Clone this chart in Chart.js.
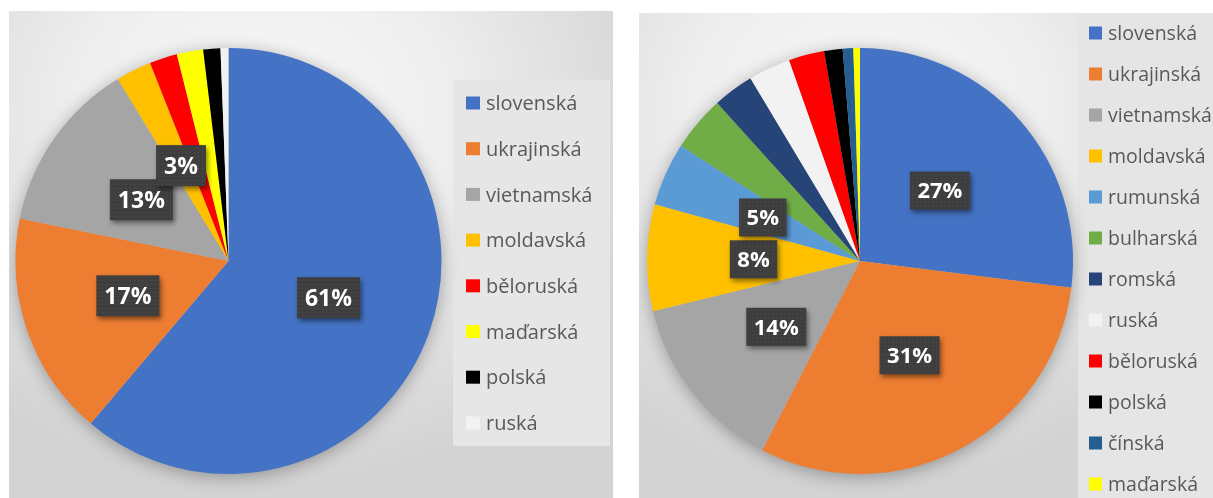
<!DOCTYPE html>
<html>
<head>
<meta charset="utf-8">
<script src="https://cdn.jsdelivr.net/npm/chart.js@4.4.1/dist/chart.umd.min.js"></script>
<style>
  html, body { margin: 0; padding: 0; background: #ffffff; }
  body { width: 1213px; height: 498px; position: relative; overflow: hidden; }
  .panel { position: absolute; }
  #p1 { left: 9px; top: 11px; width: 604px; height: 487px;
        background: radial-gradient(ellipse 70% 75% at 42% 22%, #f9f9f9 0%, #eeeeee 45%, #d3d3d3 100%); }
  #p2 { left: 639px; top: 13px; width: 574px; height: 485px;
        background: radial-gradient(ellipse 70% 75% at 40% 22%, #f9f9f9 0%, #eeeeee 45%, #d3d3d3 100%); }
  canvas { display: block; }
</style>
</head>
<body>
<div class="panel" id="p1"><canvas id="c1" width="604" height="487"></canvas></div>
<div class="panel" id="p2"><canvas id="c2" width="574" height="485"></canvas></div>
<script>
// ---- data: left chart ----
const leftCategories = ['slovenská', 'ukrajinská', 'vietnamská', 'moldavská', 'běloruská', 'maďarská', 'polská', 'ruská'];
const leftValues = [61.2, 17.0, 13.1, 2.7, 2.1, 2.0, 1.3, 0.6];
const leftColors = ['#4472C4', '#ED7D31', '#A5A5A5', '#FFC000', '#FF0000', '#FFFF00', '#000000', '#F2F2F2'];
const leftLabeled = [true, true, true, true, false, false, false, false];

// ---- data: right chart ----
const rightCategories = ['slovenská', 'ukrajinská', 'vietnamská', 'moldavská', 'rumunská', 'bulharská', 'romská', 'ruská', 'běloruská', 'polská', 'čínská', 'maďarská'];
const rightValues = [27.0, 30.6, 13.6, 8.1, 4.8, 4.2, 3.1, 3.2, 2.7, 1.4, 0.8, 0.5];
const rightColors = ['#4472C4', '#ED7D31', '#A5A5A5', '#FFC000', '#5B9BD5', '#70AD47', '#264478', '#F2F2F2', '#FF0000', '#000000', '#255E91', '#FFFF00'];
const rightLabeled = [true, true, true, true, true, false, false, false, false, false, false, false];

// dotted dark texture for data label boxes
function makePattern(ctx) {
  const pc = document.createElement('canvas');
  pc.width = 4; pc.height = 4;
  const p = pc.getContext('2d');
  p.fillStyle = '#3e3e3e';
  p.fillRect(0, 0, 4, 4);
  p.fillStyle = '#4f4f4f';
  p.fillRect(1, 1, 1, 1);
  return ctx.createPattern(pc, 'repeat');
}

function buildChart(id, categories, values, colors, labeled, cfg) {
  const el = document.getElementById(id);
  const pieShadow = {
    id: 'pieShadow',
    beforeDraw(chart) {
      const ctx = chart.ctx;
      const lg = cfg.legend;
      ctx.save();
      ctx.fillStyle = lg.bg;
      ctx.fillRect(lg.boxX, lg.boxY, lg.boxW, lg.boxH);
      ctx.restore();
    },
    beforeDatasetsDraw(chart) {
      const meta = chart.getDatasetMeta(0);
      const a = meta.data[0];
      if (!a) return;
      const ctx = chart.ctx;
      ctx.save();
      ctx.shadowColor = 'rgba(0,0,0,0.35)';
      ctx.shadowBlur = 18;
      ctx.shadowOffsetX = 0;
      ctx.shadowOffsetY = 3;
      ctx.beginPath();
      ctx.arc(a.x, a.y, a.outerRadius - 1, 0, Math.PI * 2);
      ctx.fillStyle = '#bdbdbd';
      ctx.fill();
      ctx.restore();
    }
  };
  const dataLabels = {
    id: 'dataLabels',
    afterDatasetsDraw(chart) {
      const ctx = chart.ctx;
      const meta = chart.getDatasetMeta(0);
      const ds = chart.data.datasets[0].data;
      const total = ds.reduce((s, v) => s + v, 0);
      const pat = makePattern(ctx);
      meta.data.forEach((arc, i) => {
        if (!labeled[i]) return;
        const pt = arc.getCenterPoint();
        const txt = Math.round(ds[i] / total * 100) + '%';
        ctx.save();
        ctx.font = 'bold ' + cfg.labelFont + 'px "Open Sans"';
        const tw = ctx.measureText(txt).width;
        const bw = tw + 2 * cfg.labelPadX;
        const bh = cfg.labelBoxH;
        ctx.shadowColor = 'rgba(0,0,0,0.45)';
        ctx.shadowBlur = 5;
        ctx.shadowOffsetX = 2;
        ctx.shadowOffsetY = 3;
        ctx.fillStyle = pat;
        ctx.fillRect(pt.x - bw / 2, pt.y - bh / 2, bw, bh);
        ctx.shadowColor = 'transparent';
        ctx.fillStyle = '#ffffff';
        ctx.textAlign = 'center';
        ctx.textBaseline = 'alphabetic';
        ctx.fillText(txt, pt.x, pt.y + cfg.labelFont * 0.36);
        ctx.restore();
      });
    }
  };
  const customLegend = {
    id: 'customLegend',
    afterDraw(chart) {
      const ctx = chart.ctx;
      const lg = cfg.legend;
      const bg = chart.data.datasets[0].backgroundColor;
      ctx.save();
      ctx.font = lg.font + 'px "Open Sans"';
      ctx.textAlign = 'left';
      ctx.textBaseline = 'alphabetic';
      chart.data.labels.forEach((lab, i) => {
        const y = lg.y0 + i * lg.step;
        ctx.fillStyle = bg[i];
        ctx.fillRect(lg.sqX, y - lg.sqH / 2, lg.sqW, lg.sqH);
        ctx.fillStyle = '#595959';
        ctx.fillText(lab, lg.textX, y + lg.font * 0.36);
      });
      ctx.restore();
    }
  };
  return new Chart(el, {
    type: 'pie',
    data: {
      labels: categories,
      datasets: [{
        data: values,
        backgroundColor: colors,
        borderWidth: 0
      }]
    },
    options: {
      responsive: false,
      devicePixelRatio: 1,
      animation: false,
      events: [],
      layout: { padding: cfg.padding },
      plugins: {
        legend: { display: false },
        tooltip: { enabled: false }
      }
    },
    plugins: [pieShadow, dataLabels, customLegend]
  });
}

buildChart('c1', leftCategories, leftValues, leftColors, leftLabeled, {
  padding: { left: 6.5, right: 171.5, top: 37, bottom: 24 },
  labelFont: 23, labelPadX: 8, labelBoxH: 41,
  legend: {
    bg: '#e6e6e6', boxX: 444, boxY: 69, boxW: 157, boxH: 366,
    sqX: 457, sqW: 14, sqH: 13, textX: 477, y0: 92, step: 45.7, font: 20
  }
});

buildChart('c2', rightCategories, rightValues, rightColors, rightLabeled, {
  padding: { left: 8, right: 140, top: 35, bottom: 24 },
  labelFont: 22, labelPadX: 7.5, labelBoxH: 38,
  legend: {
    bg: '#e5e5e5', boxX: 439, boxY: 0, boxW: 135, boxH: 485,
    sqX: 450, sqW: 13, sqH: 13, textX: 469, y0: 20, step: 41, font: 19.5
  }
});
</script>
</body>
</html>
